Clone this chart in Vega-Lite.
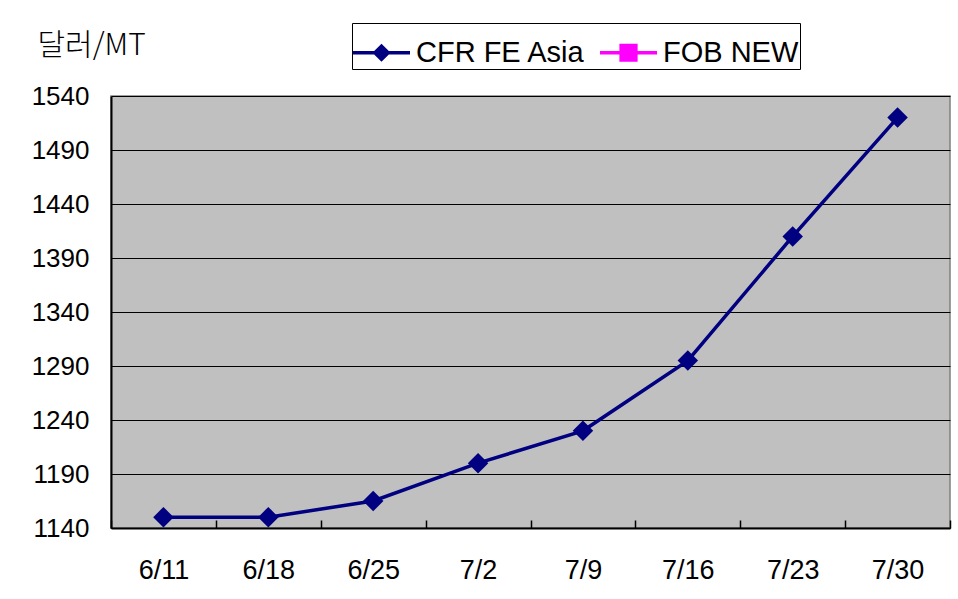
{
  "$schema": "https://vega.github.io/schema/vega-lite/v6.json",
  "width": 839,
  "height": 432,
  "autosize": "none",
  "padding": {"left": 111, "top": 96, "right": 8, "bottom": 71},
  "background": "white",
  "config": {
    "view": {"fill": "#C0C0C0", "stroke": "#808080", "strokeWidth": 1.5},
    "font": "Liberation Sans"
  },
  "data": {
    "values": [
      {"date": "6/11", "price": 1150, "series": "CFR FE Asia"},
      {"date": "6/18", "price": 1150, "series": "CFR FE Asia"},
      {"date": "6/25", "price": 1165, "series": "CFR FE Asia"},
      {"date": "7/2", "price": 1200, "series": "CFR FE Asia"},
      {"date": "7/9", "price": 1230, "series": "CFR FE Asia"},
      {"date": "7/16", "price": 1295, "series": "CFR FE Asia"},
      {"date": "7/23", "price": 1410, "series": "CFR FE Asia"},
      {"date": "7/30", "price": 1520, "series": "CFR FE Asia"}
    ]
  },
  "encoding": {
    "x": {
      "field": "date",
      "type": "ordinal",
      "sort": null,
      "scale": {"type": "band", "paddingInner": 0, "paddingOuter": 0},
      "axis": {
        "title": null,
        "labelAngle": 0,
        "labelFontSize": 27,
        "labelColor": "black",
        "labelFont": "Liberation Sans",
        "tickBand": "extent",
        "tickSize": -8,
        "tickColor": "black",
        "tickWidth": 1.5,
        "domainColor": "black",
        "domainWidth": 2,
        "labelPadding": 37,
        "grid": false
      }
    },
    "y": {
      "field": "price",
      "type": "quantitative",
      "scale": {"domain": [1140, 1540], "nice": false, "zero": false},
      "axis": {
        "title": "달러/MT",
        "titleFont": "Noto Sans CJK KR",
        "titleAngle": 0,
        "titleAlign": "left",
        "titleBaseline": "alphabetic",
        "titleX": -74,
        "titleY": -42,
        "titleFontSize": 30,
        "titleFontWeight": 300,
        "titleColor": "black",
        "values": [1140, 1190, 1240, 1290, 1340, 1390, 1440, 1490, 1540],
        "format": "d",
        "labelFont": "Liberation Sans",
        "labelFontSize": 26,
        "labelColor": "black",
        "labelPadding": 22,
        "ticks": false,
        "grid": true,
        "gridColor": "black",
        "gridWidth": 1,
        "gridOpacity": 1,
        "domainColor": "black",
        "domainWidth": 2
      }
    }
  },
  "layer": [
    {
      "mark": {"type": "line", "strokeWidth": 3.5, "color": "#000080"},
      "encoding": {}
    },
    {
      "mark": {"type": "point", "shape": "diamond", "filled": true, "size": 420, "opacity": 1},
      "encoding": {
        "fill": {
          "field": "series",
          "type": "nominal",
          "scale": {"domain": ["CFR FE Asia", "FOB NEW"], "range": ["#000080", "#FF00FF"]},
          "legend": {
            "title": null,
            "orient": "none",
            "legendX": 241,
            "legendY": -73,
            "direction": "horizontal",
            "strokeColor": "black",
            "fillColor": "white",
            "padding": 1,
            "labelFontSize": 29,
            "labelFont": "Liberation Sans",
            "labelColor": "black",
            "labelLimit": 400,
            "labelOffset": 6,
            "columnPadding": 14,
            "symbolSize": 3249,
            "symbolStrokeWidth": 0,
            "symbolOpacity": 1,
            "encode": {
              "symbols": {
                "update": {
                  "shape": {"signal": "datum.value === 'FOB NEW' ? 'M-1,-0.06H1V0.06H-1Z M-0.32,-0.32H0.32V0.32H-0.32Z' : 'M-1,-0.06H1V0.06H-1Z M0,-0.32L0.32,0L0,0.32L-0.32,0Z'"},
                  "strokeWidth": {"value": 0}
                }
              }
            }
          }
        }
      }
    }
  ]
}
